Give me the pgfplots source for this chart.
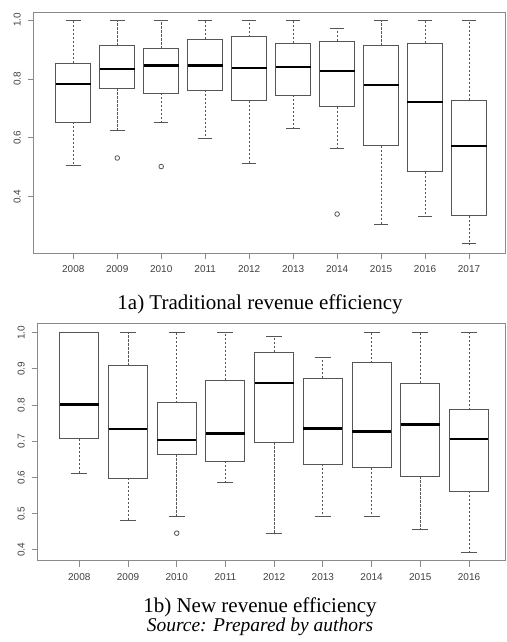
\documentclass[border=0pt]{standalone}
\usepackage{fontspec}
\setmainfont{Liberation Serif}
\newfontfamily\ticksans{Liberation Sans}
\usepackage{pgfplots}
\pgfplotsset{compat=1.18}
\usepgfplotslibrary{statistics}
\definecolor{framegray}{HTML}{8A8A8A}
\definecolor{boxgray}{HTML}{555555}
\definecolor{tickgray}{HTML}{404040}
\pgfplotsset{
  rstyle/.style={
    scale only axis,
    axis line style={draw=framegray, line width=0.9pt},
    tick style={draw=framegray, line width=0.9pt},
    tick align=outside,
    major tick length=6pt,
    tick pos=left,
    ticklabel style={font=\ticksans\fontsize{10}{12}\selectfont, text=tickgray},
    /pgf/number format/assume math mode=true,
    yticklabel style={rotate=90, anchor=south},
    xticklabel shift=3pt,
    yticklabel shift=3.5pt,
    boxplot/draw direction=y,
    boxplot/box extend=0.8,
    boxplot/whisker extend=0.33,
    boxplot/every box/.style={draw=boxgray, line width=1pt},
    boxplot/every median/.style={draw=black, line width=2.4pt},
    boxplot/every whisker/.style={draw=boxgray, line width=0.9pt},
    boxplot/draw/lower whisker/.code={%
      \draw[/pgfplots/boxplot/every whisker/.try, dash pattern=on 2.2pt off 1.8pt]
        (boxplot box cs:\pgfplotsboxplotvalue{lower quartile},0.5) --
        (boxplot box cs:\pgfplotsboxplotvalue{lower whisker},0.5);
      \draw[/pgfplots/boxplot/every whisker/.try]
        (boxplot whisker cs:\pgfplotsboxplotvalue{lower whisker},0) --
        (boxplot whisker cs:\pgfplotsboxplotvalue{lower whisker},1);
    },
    boxplot/draw/upper whisker/.code={%
      \draw[/pgfplots/boxplot/every whisker/.try, dash pattern=on 2.2pt off 1.8pt]
        (boxplot box cs:\pgfplotsboxplotvalue{upper quartile},0.5) --
        (boxplot box cs:\pgfplotsboxplotvalue{upper whisker},0.5);
      \draw[/pgfplots/boxplot/every whisker/.try]
        (boxplot whisker cs:\pgfplotsboxplotvalue{upper whisker},0) --
        (boxplot whisker cs:\pgfplotsboxplotvalue{upper whisker},1);
    },
  },
  rbox/.style={boxplot prepared={#1}, draw=boxgray, solid, mark=o,
    mark options={draw=boxgray, line width=0.8pt}, mark size=2.3pt},
}
\begin{document}
\begin{tikzpicture}[x=1pt,y=1pt]
\useasboundingbox (0,0) rectangle (506,642);
% ---------- 1a ----------
\begin{axis}[rstyle,
  at={(33.7pt,389pt)}, anchor=south west,
  width=471.4pt, height=241pt,
  xmin=0.1, xmax=10.82, ymin=0.210, ymax=1.027,
  xtick={1,...,10},
  xticklabels={2008,2009,2010,2011,2012,2013,2014,2015,2016,2017},
  ytick={0.4,0.6,0.8,1.0}, yticklabels={0.4,0.6,0.8,1.0},
]
\addplot[rbox={draw position=1, lower whisker=0.506, lower quartile=0.654, median=0.783, upper quartile=0.853, upper whisker=1.0}] coordinates {};
\addplot[rbox={draw position=2, lower whisker=0.627, lower quartile=0.768, median=0.834, upper quartile=0.913, upper whisker=1.0}] coordinates {(0,0.532)};
\addplot[rbox={draw position=3, lower whisker=0.654, lower quartile=0.752, median=0.846, upper quartile=0.903, upper whisker=1.0}] coordinates {(0,0.503)};
\addplot[rbox={draw position=4, lower whisker=0.598, lower quartile=0.762, median=0.846, upper quartile=0.934, upper whisker=1.0}] coordinates {};
\addplot[rbox={draw position=5, lower whisker=0.512, lower quartile=0.726, median=0.838, upper quartile=0.943, upper whisker=1.0}] coordinates {};
\addplot[rbox={draw position=6, lower whisker=0.632, lower quartile=0.745, median=0.841, upper quartile=0.921, upper whisker=1.0}] coordinates {};
\addplot[rbox={draw position=7, lower whisker=0.564, lower quartile=0.706, median=0.826, upper quartile=0.927, upper whisker=0.972}] coordinates {(0,0.342)};
\addplot[rbox={draw position=8, lower whisker=0.308, lower quartile=0.573, median=0.779, upper quartile=0.913, upper whisker=1.0}] coordinates {};
\addplot[rbox={draw position=9, lower whisker=0.333, lower quartile=0.485, median=0.722, upper quartile=0.921, upper whisker=1.0}] coordinates {};
\addplot[rbox={draw position=10, lower whisker=0.242, lower quartile=0.337, median=0.573, upper quartile=0.728, upper whisker=0.998}] coordinates {};
\end{axis}
% ---------- 1b ----------
\begin{axis}[rstyle,
  at={(37.7pt,81.3pt)}, anchor=south west,
  width=467.3pt, height=237.4pt,
  xmin=0.146, xmax=9.739, ymin=0.370, ymax=1.026,
  xtick={1,...,9},
  xticklabels={2008,2009,2010,2011,2012,2013,2014,2015,2016},
  ytick={0.4,0.5,0.6,0.7,0.8,0.9,1.0}, yticklabels={0.4,0.5,0.6,0.7,0.8,0.9,1.0},
]
\addplot[rbox={draw position=1, lower whisker=0.612, lower quartile=0.707, median=0.802, upper quartile=1.0, upper whisker=1.0}] coordinates {};
\addplot[rbox={draw position=2, lower whisker=0.482, lower quartile=0.598, median=0.734, upper quartile=0.909, upper whisker=1.0}] coordinates {};
\addplot[rbox={draw position=3, lower whisker=0.493, lower quartile=0.664, median=0.703, upper quartile=0.806, upper whisker=1.0}] coordinates {(0,0.446)};
\addplot[rbox={draw position=4, lower whisker=0.587, lower quartile=0.645, median=0.721, upper quartile=0.868, upper whisker=1.0}] coordinates {};
\addplot[rbox={draw position=5, lower whisker=0.446, lower quartile=0.697, median=0.861, upper quartile=0.946, upper whisker=0.989}] coordinates {};
\addplot[rbox={draw position=6, lower whisker=0.491, lower quartile=0.637, median=0.735, upper quartile=0.874, upper whisker=0.932}] coordinates {};
\addplot[rbox={draw position=7, lower whisker=0.491, lower quartile=0.627, median=0.727, upper quartile=0.917, upper whisker=1.0}] coordinates {};
\addplot[rbox={draw position=8, lower whisker=0.456, lower quartile=0.603, median=0.746, upper quartile=0.860, upper whisker=1.0}] coordinates {};
\addplot[rbox={draw position=9, lower whisker=0.394, lower quartile=0.562, median=0.707, upper quartile=0.787, upper whisker=1.0}] coordinates {};
\end{axis}
% ---------- captions ----------
\node[anchor=base, inner sep=0pt, font=\fontsize{21}{24}\selectfont] at (260,332) {1a) Traditional revenue efficiency};
\node[anchor=base, inner sep=0pt, font=\fontsize{21}{24}\selectfont] at (260,29) {1b) New revenue efficiency};
\node[anchor=base, inner sep=0pt, font=\itshape\fontsize{19.5}{22}\selectfont] at (260,10) {Source: Prepared by authors};
\end{tikzpicture}
\end{document}
